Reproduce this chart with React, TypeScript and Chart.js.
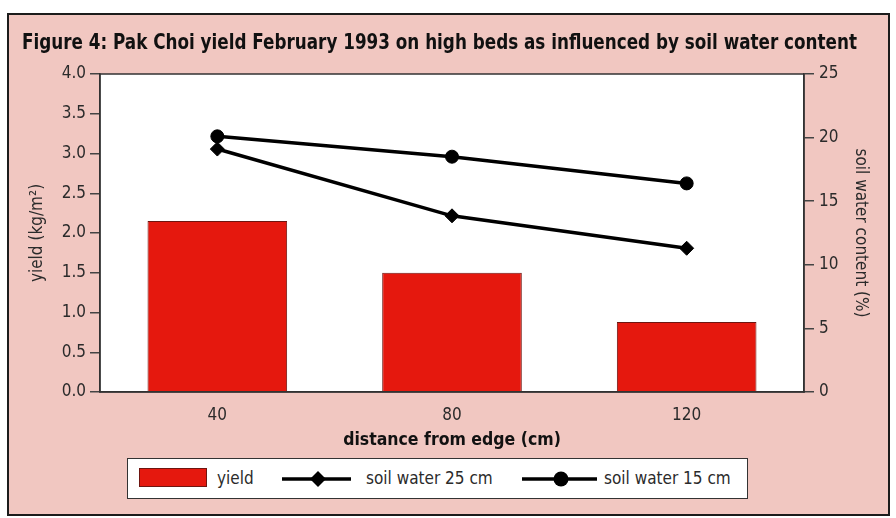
import React, { useEffect, useRef } from "react";
import { Chart, registerables } from "chart.js";

Chart.register(...registerables);

// ---- data ----
const categories = ["40", "80", "120"];
const yieldValues = [2.15, 1.5, 0.88];
const soilWater25 = [19.1, 13.85, 11.3];
const soilWater15 = [20.1, 18.5, 16.4];
const yieldAxisRange = [0, 4, 0.5];
const soilAxisRange = [0, 25, 5];

const TITLE = "Figure 4: Pak Choi yield February 1993 on high beds as influenced by soil water content";
const X_TITLE = "distance from edge (cm)";
const Y_TITLE = "yield (kg/m\u00B2)";
const Y2_TITLE = "soil water content (%)";
const LEGEND_LABELS = ["yield", "soil water 25 cm", "soil water 15 cm"];

const FONT = '"Liberation Sans Narrow", "DejaVu Sans Condensed", "Arial Narrow", sans-serif';
const PINK = "#f1c7c1";
const RED = "#e5180e";
const INK = "#2b2b2b";

const framePlugin = {
  id: "frame",
  beforeDraw(chart: any) {
    const { ctx, chartArea } = chart;
    const { left, top, right, bottom } = chartArea;
    ctx.save();
    ctx.fillStyle = "#ffffff";
    ctx.fillRect(left, top, right - left, bottom - top);
    ctx.restore();
  },
  afterDraw(chart: any) {
    const { ctx, chartArea } = chart;
    const { left, top, right, bottom } = chartArea;
    ctx.save();
    ctx.strokeStyle = "#333333";
    ctx.lineWidth = 1.5;
    ctx.strokeRect(left, top, right - left, bottom - top);
    ctx.restore();
  },
};

export default function App() {
  const ref = useRef<HTMLCanvasElement>(null);

  useEffect(() => {
    if (!ref.current) return;
    const tickFont = { family: FONT, size: 17 };
    const chart = new Chart(ref.current, {
      type: "bar",
      data: {
        labels: categories,
        datasets: [
          {
            type: "line",
            label: LEGEND_LABELS[1],
            data: soilWater25,
            yAxisID: "y2",
            borderColor: "#000",
            backgroundColor: "#000",
            borderWidth: 3.5,
            pointStyle: "rectRot",
            pointRadius: 7,
            pointBorderWidth: 1,
            pointBackgroundColor: "#000",
            pointBorderColor: "#000",
            order: 1,
          } as any,
          {
            type: "line",
            label: LEGEND_LABELS[2],
            data: soilWater15,
            yAxisID: "y2",
            borderColor: "#000",
            backgroundColor: "#000",
            borderWidth: 3.5,
            pointStyle: "circle",
            pointRadius: 6.5,
            pointBorderWidth: 1,
            pointBackgroundColor: "#000",
            pointBorderColor: "#000",
            order: 1,
          } as any,
          {
            type: "bar",
            label: LEGEND_LABELS[0],
            data: yieldValues,
            yAxisID: "y",
            backgroundColor: RED,
            borderColor: "#6e1510",
            borderWidth: 1,
            barPercentage: 0.595,
            categoryPercentage: 1,
            order: 2,
          } as any,
        ],
      },
      options: {
        responsive: false,
        animation: false,
        layout: { padding: { left: 22, right: 39, top: 0, bottom: 0 } },
        plugins: {
          legend: { display: false },
          tooltip: { enabled: false },
          title: {
            display: true,
            text: TITLE,
            color: "#111",
            font: { family: FONT, size: 21, weight: "bold" },
            padding: { top: 31, bottom: 17.8 },
          },
        },
        scales: {
          x: {
            grid: { display: false, drawOnChartArea: false, drawTicks: false },
            border: { display: true, color: "#333", width: 1.5 },
            ticks: { color: INK, font: tickFont, padding: 13 },
            title: {
              display: true,
              text: X_TITLE,
              color: "#111",
              font: { family: FONT, size: 17.5, weight: "bold" },
              padding: { top: 0, bottom: 67 },
            },
            afterFit: (s: any) => {
              s.height = 126;
            },
          },
          y: {
            position: "left",
            min: yieldAxisRange[0],
            max: yieldAxisRange[1],
            grid: { drawOnChartArea: false, drawTicks: true, tickLength: 10, color: "#444", lineWidth: 1.5 },
            border: { display: true, color: "#333", width: 1.5 },
            ticks: {
              stepSize: yieldAxisRange[2],
              color: INK,
              font: tickFont,
              padding: 4,
              callback: (v: any) => Number(v).toFixed(1),
            },
            title: {
              display: true,
              text: Y_TITLE,
              color: INK,
              font: { family: FONT, size: 17 },
              padding: { top: 5, bottom: 0 },
            },
            afterFit: (s: any) => {
              s.width = 78;
            },
          },
          y2: {
            position: "right",
            min: soilAxisRange[0],
            max: soilAxisRange[1],
            grid: { drawOnChartArea: false, drawTicks: true, tickLength: 10, color: "#444", lineWidth: 1.5 },
            border: { display: true, color: "#333", width: 1.5 },
            ticks: { stepSize: soilAxisRange[2], color: INK, font: tickFont, padding: 5 },
            title: {
              display: true,
              text: Y2_TITLE,
              color: INK,
              font: { family: FONT, size: 17 },
              padding: { top: -14, bottom: 0 },
            },
            afterFit: (s: any) => {
              s.width = 53;
            },
          },
        },
      },
      plugins: [framePlugin],
    });
    return () => chart.destroy();
  }, []);

  const legendText: React.CSSProperties = {
    position: "absolute",
    top: 0,
    height: 39,
    lineHeight: "39px",
    fontFamily: FONT,
    fontSize: 17,
    color: INK,
    whiteSpace: "nowrap",
  };

  return (
    <div style={{ position: "absolute", left: 0, top: 0, width: 896, height: 518, background: "#fff", overflow: "hidden" }}>
      <div
        style={{
          position: "absolute",
          left: 7,
          top: 13,
          width: 883,
          height: 503,
          boxSizing: "border-box",
          border: "2px solid #1c1c1c",
          background: PINK,
        }}
      />
      <canvas ref={ref} width={896} height={518} style={{ position: "absolute", left: 0, top: 0, width: 896, height: 518 }} />
      <div
        style={{
          position: "absolute",
          left: 127,
          top: 458,
          width: 621,
          height: 41,
          boxSizing: "border-box",
          border: "1.5px solid #333",
          background: "#fff",
        }}
      >
        <div
          style={{
            position: "absolute",
            left: 11,
            top: 9,
            width: 68,
            height: 19,
            boxSizing: "border-box",
            border: "1px solid #6e1510",
            background: RED,
          }}
        />
        <div style={{ ...legendText, left: 89 }}>{LEGEND_LABELS[0]}</div>
        <svg style={{ position: "absolute", left: 154, top: 4, overflow: "visible" }} width={70} height={32}>
          <line x1={0} y1={16} x2={69} y2={16} stroke="#000" strokeWidth={3.5} />
          <polygon points="36,8 44,16 36,24 28,16" fill="#000" />
        </svg>
        <div style={{ ...legendText, left: 238 }}>{LEGEND_LABELS[1]}</div>
        <svg style={{ position: "absolute", left: 394, top: 4, overflow: "visible" }} width={76} height={32}>
          <line x1={0} y1={16} x2={75} y2={16} stroke="#000" strokeWidth={3.5} />
          <circle cx={39} cy={16} r={7.5} fill="#000" />
        </svg>
        <div style={{ ...legendText, left: 476 }}>{LEGEND_LABELS[2]}</div>
      </div>
    </div>
  );
}
